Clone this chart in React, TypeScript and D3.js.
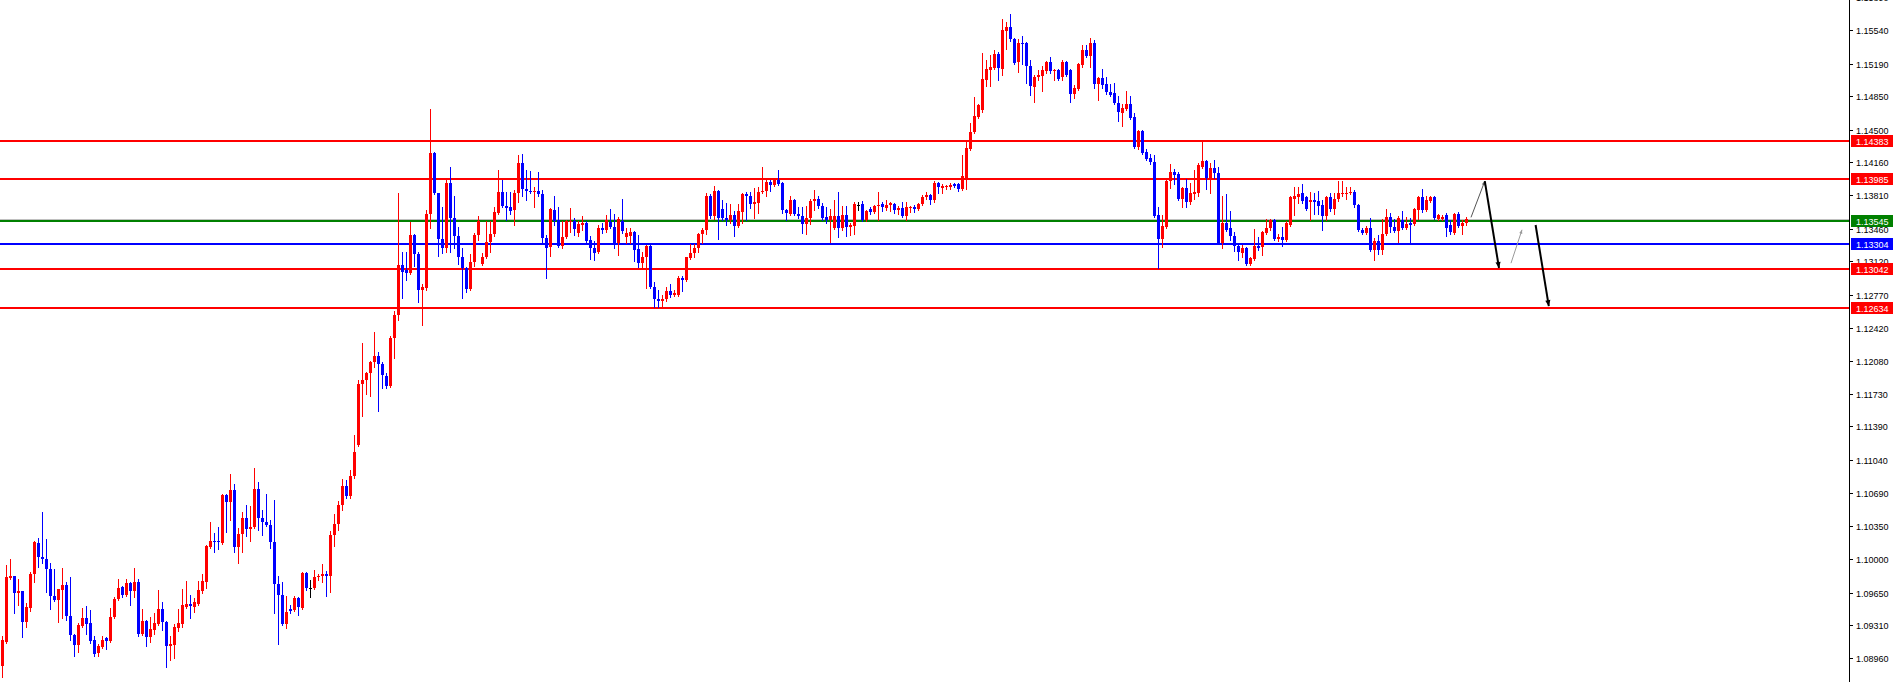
import React from 'react';
import * as d3 from 'd3';

const W = 1896;
const H = 682;
const AXIS_X = 1849;
const PRICE_TOP = 1.158566;
const PRICE_BOTTOM = 1.087137;

const opens = [
1.0888,1.0913,1.0980,1.0982,1.0965,1.0967,1.0934,1.0949,1.0984,1.1017,
1.1002,1.1000,1.0990,1.0961,1.0957,1.0968,1.0973,1.0940,1.0921,1.0910,
1.0930,1.0938,1.0933,1.0915,1.0902,1.0908,1.0917,1.0914,1.0939,1.0958,
1.0971,1.0962,1.0975,1.0967,1.0976,1.0922,1.0935,1.0919,1.0926,1.0932,
1.0948,1.0934,1.0909,1.0910,1.0928,1.0932,1.0950,1.0953,1.0950,1.0953,
1.0967,1.0976,1.1013,1.1019,1.1019,1.1017,1.1067,1.1060,1.1072,1.1013,
1.1026,1.1043,1.1032,1.1034,1.1074,1.1043,1.1039,1.1036,1.1018,1.0974,
1.0963,1.0932,1.0948,1.0947,1.0959,1.0949,1.0986,1.0970,1.0970,1.0981,
1.0982,1.0985,1.0982,1.1025,1.1037,1.1057,1.1077,1.1066,1.1087,1.1120,
1.1183,1.1188,1.1195,1.1207,1.1213,1.1204,1.1192,1.1181,1.1232,1.1256,
1.1308,1.1303,1.1300,1.1340,1.1320,1.1282,1.1284,1.1362,1.1425,1.1383,
1.1335,1.1326,1.1394,1.1357,1.1338,1.1316,1.1305,1.1283,1.1311,1.1340,
1.1309,1.1316,1.1332,1.1341,1.1363,1.1385,1.1370,1.1369,1.1366,1.1384,
1.1415,1.1388,1.1386,1.1385,1.1386,1.1382,1.1336,1.1327,1.1366,1.1355,
1.1328,1.1337,1.1353,1.1354,1.1342,1.1350,1.1352,1.1334,1.1326,1.1322,
1.1347,1.1345,1.1353,1.1348,1.1331,1.1354,1.1337,1.1339,1.1343,1.1325,
1.1310,1.1316,1.1328,1.1285,1.1273,1.1270,1.1272,1.1281,1.1277,1.1277,
1.1295,1.1292,1.1315,1.1321,1.1326,1.1341,1.1345,1.1380,1.1359,1.1386,
1.1367,1.1357,1.1355,1.1361,1.1349,1.1364,1.1382,1.1380,1.1372,1.1373,
1.1385,1.1386,1.1395,1.1392,1.1397,1.1394,1.1366,1.1362,1.1376,1.1362,
1.1359,1.1351,1.1357,1.1375,1.1377,1.1370,1.1358,1.1355,1.1347,1.1359,
1.1347,1.1361,1.1348,1.1349,1.1371,1.1372,1.1355,1.1367,1.1364,1.1370,
1.1372,1.1368,1.1371,1.1372,1.1366,1.1368,1.1359,1.1368,1.1369,1.1367,
1.1372,1.1379,1.1381,1.1376,1.1394,1.1389,1.1390,1.1390,1.1393,1.1393,
1.1388,1.1397,1.1430,1.1447,1.1463,1.1470,1.1502,1.1512,1.1514,1.1529,
1.1513,1.1553,1.1557,1.1545,1.1521,1.1541,1.1541,1.1517,1.1495,1.1505,
1.1506,1.1511,1.1521,1.1511,1.1512,1.1505,1.1521,1.1512,1.1487,1.1492,
1.1518,1.1533,1.1527,1.1541,1.1498,1.1504,1.1498,1.1489,1.1488,1.1478,
1.1467,1.1471,1.1477,1.1463,1.1432,1.1448,1.1426,1.1420,1.1416,1.1361,
1.1335,1.1348,1.1396,1.1406,1.1403,1.1377,1.1389,1.1374,1.1382,1.1384,
1.1411,1.1417,1.1399,1.1410,1.1404,1.1331,1.1352,1.1347,1.1338,1.1328,
1.1321,1.1326,1.1309,1.1314,1.1328,1.1327,1.1342,1.1347,1.1355,1.1335,
1.1337,1.1334,1.1350,1.1377,1.1379,1.1384,1.1379,1.1374,1.1376,1.1375,
1.1371,1.1359,1.1379,1.1367,1.1377,1.1383,1.1383,1.1384,1.1385,1.1371,
1.1345,1.1342,1.1347,1.1324,1.1333,1.1324,1.1341,1.1358,1.1348,1.1344,
1.1355,1.1347,1.1352,1.1351,1.1366,1.1379,1.1366,1.1375,1.1379,1.1356,
1.1356,1.1360,1.1350,1.1342,1.1362,1.1349,1.1352
];

const highs = [
1.0920,1.0994,1.1000,1.0982,1.0979,1.0967,1.0954,1.0987,1.1019,1.1022,
1.1049,1.1021,1.0996,1.0990,1.0969,1.0991,1.0976,1.0981,1.0922,1.0933,
1.0949,1.0951,1.0947,1.0920,1.0911,1.0920,1.0918,1.0949,1.0960,1.0979,
1.0972,1.0979,1.0976,1.0991,1.0979,1.0948,1.0936,1.0939,1.0944,1.0968,
1.0955,1.0935,1.0920,1.0932,1.0948,1.0969,1.0977,1.0963,1.0959,1.0977,
1.0985,1.1015,1.1039,1.1027,1.1034,1.1068,1.1068,1.1089,1.1079,1.1033,
1.1049,1.1057,1.1056,1.1095,1.1081,1.1051,1.1068,1.1041,1.1062,1.0982,
1.0976,1.0961,1.0952,1.0961,1.0960,1.0987,1.0987,1.0978,1.0989,1.0985,
1.0995,1.0988,1.1029,1.1047,1.1061,1.1084,1.1083,1.1093,1.1130,1.1188,
1.1226,1.1196,1.1208,1.1238,1.1217,1.1206,1.1195,1.1234,1.1260,1.1384,
1.1322,1.1322,1.1353,1.1341,1.1322,1.1288,1.1366,1.1471,1.1426,1.1384,
1.1369,1.1398,1.1411,1.1380,1.1348,1.1326,1.1306,1.1320,1.1342,1.1359,
1.1321,1.1354,1.1354,1.1369,1.1408,1.1397,1.1385,1.1385,1.1387,1.1423,
1.1424,1.1408,1.1407,1.1390,1.1405,1.1387,1.1340,1.1368,1.1380,1.1369,
1.1354,1.1355,1.1368,1.1357,1.1354,1.1359,1.1354,1.1338,1.1333,1.1350,
1.1352,1.1361,1.1367,1.1362,1.1358,1.1377,1.1347,1.1347,1.1344,1.1340,
1.1322,1.1329,1.1329,1.1290,1.1282,1.1277,1.1285,1.1288,1.1282,1.1297,
1.1297,1.1317,1.1330,1.1330,1.1342,1.1347,1.1384,1.1382,1.1391,1.1387,
1.1376,1.1373,1.1372,1.1365,1.1372,1.1383,1.1385,1.1385,1.1389,1.1390,
1.1411,1.1397,1.1397,1.1399,1.1408,1.1395,1.1367,1.1380,1.1377,1.1369,
1.1369,1.1370,1.1377,1.1387,1.1380,1.1373,1.1369,1.1367,1.1376,1.1385,
1.1370,1.1370,1.1352,1.1374,1.1374,1.1375,1.1366,1.1369,1.1371,1.1385,
1.1374,1.1376,1.1374,1.1373,1.1370,1.1374,1.1374,1.1370,1.1371,1.1373,
1.1381,1.1385,1.1382,1.1396,1.1395,1.1393,1.1392,1.1394,1.1394,1.1394,
1.1423,1.1437,1.1457,1.1484,1.1477,1.1530,1.1523,1.1528,1.1533,1.1531,
1.1566,1.1563,1.1571,1.1546,1.1545,1.1548,1.1542,1.1523,1.1507,1.1512,
1.1517,1.1522,1.1526,1.1513,1.1513,1.1523,1.1522,1.1513,1.1497,1.1520,
1.1539,1.1539,1.1546,1.1544,1.1505,1.1513,1.1505,1.1498,1.1499,1.1485,
1.1477,1.1490,1.1485,1.1467,1.1449,1.1449,1.1430,1.1424,1.1423,1.1369,
1.1360,1.1397,1.1414,1.1409,1.1405,1.1390,1.1398,1.1394,1.1408,1.1415,
1.1437,1.1418,1.1415,1.1418,1.1411,1.1380,1.1382,1.1365,1.1343,1.1330,
1.1329,1.1327,1.1317,1.1346,1.1337,1.1344,1.1356,1.1356,1.1356,1.1341,
1.1348,1.1354,1.1380,1.1390,1.1390,1.1393,1.1380,1.1385,1.1384,1.1386,
1.1376,1.1380,1.1383,1.1384,1.1396,1.1396,1.1390,1.1390,1.1387,1.1372,
1.1347,1.1349,1.1357,1.1336,1.1340,1.1356,1.1367,1.1363,1.1356,1.1359,
1.1365,1.1358,1.1357,1.1368,1.1380,1.1388,1.1380,1.1380,1.1380,1.1362,
1.1361,1.1363,1.1355,1.1363,1.1364,1.1355,1.1358
];

const lows = [
1.0877,1.0912,1.0979,1.0944,1.0952,1.0919,1.0929,1.0946,1.0976,1.0992,
1.0996,1.0966,1.0948,1.0956,1.0934,1.0938,1.0936,1.0915,1.0899,1.0903,
1.0929,1.0922,1.0912,1.0899,1.0899,1.0907,1.0906,1.0913,1.0938,1.0957,
1.0960,1.0961,1.0952,1.0960,1.0920,1.0921,1.0909,1.0913,1.0922,1.0931,
1.0926,1.0887,1.0894,1.0896,1.0925,1.0929,1.0949,1.0938,1.0945,1.0952,
1.0965,1.0970,1.1012,1.1008,1.1011,1.1016,1.1028,1.1041,1.1008,1.0996,
1.1008,1.1024,1.1019,1.1033,1.1031,1.1025,1.1035,1.1012,1.0944,1.0911,
1.0931,1.0928,1.0944,1.0946,1.0942,1.0948,1.0968,1.0960,1.0969,1.0978,
1.0976,1.0961,1.0966,1.1014,1.1031,1.1051,1.1064,1.1064,1.1085,1.1119,
1.1150,1.1173,1.1171,1.1201,1.1155,1.1179,1.1179,1.1180,1.1211,1.1250,
1.1274,1.1292,1.1299,1.1307,1.1269,1.1245,1.1282,1.1347,1.1382,1.1318,
1.1321,1.1322,1.1322,1.1326,1.1309,1.1274,1.1280,1.1282,1.1307,1.1334,
1.1308,1.1315,1.1322,1.1338,1.1362,1.1369,1.1355,1.1362,1.1350,1.1374,
1.1380,1.1376,1.1384,1.1369,1.1380,1.1332,1.1294,1.1318,1.1350,1.1327,
1.1326,1.1336,1.1343,1.1340,1.1338,1.1345,1.1332,1.1314,1.1313,1.1321,
1.1342,1.1343,1.1347,1.1326,1.1319,1.1342,1.1331,1.1331,1.1312,1.1306,
1.1306,1.1284,1.1284,1.1264,1.1264,1.1264,1.1270,1.1275,1.1276,1.1276,
1.1281,1.1291,1.1314,1.1317,1.1322,1.1331,1.1341,1.1357,1.1356,1.1335,
1.1355,1.1350,1.1352,1.1339,1.1348,1.1352,1.1355,1.1368,1.1357,1.1363,
1.1383,1.1380,1.1386,1.1391,1.1392,1.1363,1.1355,1.1361,1.1361,1.1357,
1.1342,1.1341,1.1351,1.1366,1.1368,1.1355,1.1352,1.1332,1.1346,1.1337,
1.1345,1.1338,1.1340,1.1341,1.1366,1.1354,1.1354,1.1362,1.1363,1.1355,
1.1365,1.1366,1.1365,1.1363,1.1362,1.1358,1.1355,1.1364,1.1364,1.1366,
1.1371,1.1377,1.1372,1.1374,1.1383,1.1384,1.1388,1.1388,1.1390,1.1386,
1.1387,1.1388,1.1429,1.1446,1.1462,1.1468,1.1496,1.1496,1.1513,1.1502,
1.1507,1.1534,1.1543,1.1519,1.1510,1.1519,1.1499,1.1486,1.1479,1.1502,
1.1490,1.1509,1.1509,1.1502,1.1502,1.1502,1.1506,1.1479,1.1483,1.1491,
1.1516,1.1526,1.1516,1.1494,1.1481,1.1493,1.1487,1.1485,1.1477,1.1459,
1.1454,1.1470,1.1461,1.1431,1.1430,1.1424,1.1418,1.1414,1.1358,1.1305,
1.1327,1.1347,1.1389,1.1393,1.1376,1.1369,1.1369,1.1372,1.1377,1.1380,
1.1410,1.1388,1.1384,1.1399,1.1330,1.1326,1.1344,1.1334,1.1323,1.1313,
1.1316,1.1308,1.1308,1.1313,1.1324,1.1319,1.1341,1.1345,1.1334,1.1333,
1.1328,1.1333,1.1349,1.1360,1.1373,1.1373,1.1366,1.1355,1.1362,1.1362,
1.1345,1.1355,1.1365,1.1362,1.1375,1.1380,1.1377,1.1382,1.1369,1.1344,
1.1341,1.1341,1.1323,1.1313,1.1320,1.1320,1.1340,1.1343,1.1343,1.1332,
1.1346,1.1346,1.1331,1.1350,1.1356,1.1364,1.1365,1.1374,1.1356,1.1355,
1.1355,1.1338,1.1341,1.1341,1.1348,1.1341,1.1350
];

const closes = [
1.0915,1.0981,1.0982,1.0965,1.0967,1.0934,1.0950,1.0985,1.1018,1.1002,
1.1000,1.0990,1.0961,1.0957,1.0969,1.0973,1.0940,1.0921,1.0910,1.0931,
1.0938,1.0932,1.0914,1.0901,1.0909,1.0915,1.0914,1.0939,1.0958,1.0970,
1.0962,1.0975,1.0967,1.0976,1.0922,1.0935,1.0918,1.0927,1.0933,1.0948,
1.0934,1.0909,1.0911,1.0929,1.0933,1.0952,1.0953,1.0951,1.0955,1.0968,
1.0977,1.1014,1.1019,1.1018,1.1018,1.1067,1.1060,1.1072,1.1013,1.1026,
1.1043,1.1032,1.1034,1.1074,1.1043,1.1039,1.1036,1.1018,1.0974,1.0963,
1.0932,1.0945,1.0946,1.0959,1.0950,1.0986,1.0970,1.0970,1.0981,1.0982,
1.0985,1.0982,1.1025,1.1037,1.1057,1.1077,1.1066,1.1087,1.1112,1.1183,
1.1188,1.1195,1.1207,1.1213,1.1204,1.1193,1.1181,1.1232,1.1256,1.1308,
1.1301,1.1300,1.1340,1.1320,1.1282,1.1285,1.1362,1.1425,1.1383,1.1335,
1.1326,1.1394,1.1357,1.1338,1.1316,1.1305,1.1283,1.1311,1.1340,1.1354,
1.1316,1.1332,1.1341,1.1364,1.1385,1.1370,1.1368,1.1365,1.1384,1.1415,
1.1388,1.1386,1.1385,1.1386,1.1382,1.1336,1.1326,1.1367,1.1354,1.1328,
1.1337,1.1354,1.1354,1.1346,1.1351,1.1352,1.1333,1.1326,1.1321,1.1347,
1.1345,1.1355,1.1348,1.1329,1.1356,1.1344,1.1342,1.1343,1.1324,1.1310,
1.1316,1.1328,1.1285,1.1273,1.1270,1.1273,1.1281,1.1277,1.1279,1.1295,
1.1292,1.1316,1.1321,1.1326,1.1341,1.1345,1.1380,1.1359,1.1386,1.1357,
1.1357,1.1355,1.1361,1.1349,1.1365,1.1382,1.1380,1.1372,1.1374,1.1385,
1.1386,1.1395,1.1392,1.1397,1.1393,1.1366,1.1363,1.1376,1.1362,1.1359,
1.1351,1.1357,1.1375,1.1377,1.1370,1.1357,1.1355,1.1359,1.1359,1.1347,
1.1361,1.1348,1.1350,1.1372,1.1371,1.1355,1.1365,1.1364,1.1370,1.1371,
1.1369,1.1371,1.1373,1.1366,1.1368,1.1359,1.1369,1.1369,1.1367,1.1372,
1.1379,1.1381,1.1376,1.1394,1.1390,1.1391,1.1391,1.1392,1.1391,1.1388,
1.1401,1.1431,1.1447,1.1464,1.1476,1.1503,1.1513,1.1515,1.1529,1.1514,
1.1554,1.1557,1.1545,1.1520,1.1541,1.1540,1.1517,1.1496,1.1505,1.1507,
1.1512,1.1521,1.1511,1.1512,1.1503,1.1521,1.1507,1.1487,1.1493,1.1519,
1.1533,1.1527,1.1541,1.1498,1.1504,1.1497,1.1489,1.1486,1.1478,1.1468,
1.1473,1.1477,1.1462,1.1432,1.1448,1.1425,1.1419,1.1416,1.1359,1.1335,
1.1349,1.1396,1.1406,1.1402,1.1377,1.1389,1.1374,1.1384,1.1385,1.1413,
1.1417,1.1399,1.1410,1.1404,1.1331,1.1352,1.1345,1.1338,1.1328,1.1322,
1.1326,1.1309,1.1315,1.1328,1.1326,1.1343,1.1347,1.1355,1.1335,1.1337,
1.1334,1.1352,1.1379,1.1380,1.1382,1.1375,1.1367,1.1376,1.1374,1.1370,
1.1359,1.1379,1.1367,1.1377,1.1383,1.1384,1.1384,1.1385,1.1371,1.1345,
1.1342,1.1347,1.1324,1.1333,1.1324,1.1341,1.1358,1.1348,1.1344,1.1357,
1.1347,1.1351,1.1350,1.1367,1.1379,1.1366,1.1376,1.1379,1.1357,1.1360,
1.1358,1.1347,1.1343,1.1362,1.1349,1.1352,1.1356
];

const tickLabels = [
  '1.15890','1.15540','1.15190','1.14850','1.14500','1.14160','1.13810',
  '1.13460','1.13120','1.12770','1.12420','1.12080','1.11730','1.11390',
  '1.11040','1.10690','1.10350','1.10000','1.09650','1.09310','1.08960'
];

const levelPrices = [1.14383, 1.13985, 1.13545, 1.13304, 1.13042, 1.12634];
const levelNames = ['1.14383', '1.13985', '1.13545', '1.13304', '1.13042', '1.12634'];
const levelColors = ['#ff0000', '#ff0000', '#008000', '#0000ff', '#ff0000', '#ff0000'];

// projected path annotations (bar index, price)
const pathFromBar = [367.25, 370.7, 377.25, 383.4];
const pathFromPrice = [1.1358, 1.1396, 1.1310, 1.1350];
const pathToBar = [370.7, 374.25, 380.0, 386.7];
const pathToPrice = [1.1396, 1.1305, 1.1345, 1.1265];
const pathKinds = ['thin', 'thick', 'thin2', 'thick'];

function arrowHead(x1: number, y1: number, x2: number, y2: number, len: number, half: number) {
  const dx = x2 - x1;
  const dy = y2 - y1;
  const L = Math.sqrt(dx * dx + dy * dy) || 1;
  const ux = dx / L;
  const uy = dy / L;
  const bx = x2 - ux * len;
  const by = y2 - uy * len;
  const nx = -uy;
  const ny = ux;
  return `${x2},${y2} ${bx + nx * half},${by + ny * half} ${bx - nx * half},${by - ny * half}`;
}

export default function App() {
  const x = d3.scaleLinear().domain([0, 366]).range([2, 1466]);
  const y = d3.scaleLinear().domain([PRICE_TOP, PRICE_BOTTOM]).range([0, H]);
  const font = '"Liberation Sans", Arial, Helvetica, sans-serif';

  const candles = opens.map((o, i) => {
    const c = closes[i];
    const h = Math.max(highs[i], o, c);
    const l = Math.min(lows[i], o, c);
    const color = c > o ? '#ff0000' : c < o ? '#0000ff' : '#000000';
    const cx = Math.round(x(i));
    const wy1 = Math.round(y(h));
    const wy2 = Math.round(y(l));
    const by1 = Math.round(y(Math.max(o, c)));
    const by2 = Math.round(y(Math.min(o, c)));
    return (
      <g key={i} fill={color}>
        <rect x={cx} y={wy1} width={1} height={Math.max(1, wy2 - wy1 + 1)} />
        <rect x={cx - 1} y={by1} width={3} height={Math.max(1, by2 - by1)} />
      </g>
    );
  });

  const lastClose = closes[closes.length - 1];
  const bidY = Math.round(y(lastClose));

  return (
    <svg
      width={W}
      height={H}
      viewBox={`0 0 ${W} ${H}`}
      style={{ position: 'absolute', left: 0, top: 0, background: '#ffffff', display: 'block' }}
    >
      <rect x={0} y={0} width={W} height={H} fill="#ffffff" />

      {/* bid line */}
      <rect x={0} y={bidY} width={AXIS_X} height={1} fill="#c0c0c0" shapeRendering="crispEdges" />

      {/* horizontal levels */}
      <g shapeRendering="crispEdges">
        {levelPrices.map((p, i) => (
          <rect key={i} x={0} y={Math.round(y(p)) - 1} width={AXIS_X} height={2} fill={levelColors[i]} />
        ))}
      </g>

      {/* candles */}
      <g shapeRendering="crispEdges">{candles}</g>

      {/* projected path */}
      <g>
        {pathKinds.map((kind, i) => {
          const x1 = x(pathFromBar[i]);
          const y1 = y(pathFromPrice[i]);
          const x2 = x(pathToBar[i]);
          const y2 = y(pathToPrice[i]);
          const thick = kind === 'thick';
          const col = kind === 'thick' ? '#000000' : kind === 'thin' ? '#555555' : '#9a9a9a';
          return (
            <g key={i}>
              <line x1={x1} y1={y1} x2={x2} y2={y2} stroke={col} strokeWidth={thick ? 2 : 1} />
              <polygon points={arrowHead(x1, y1, x2, y2, thick ? 6 : 4, thick ? 2.6 : 1.6)} fill={col} />
            </g>
          );
        })}
      </g>

      {/* price axis */}
      <rect x={AXIS_X} y={0} width={1} height={H} fill="#000000" shapeRendering="crispEdges" />
      <g shapeRendering="crispEdges">
        {tickLabels.map((t, i) => (
          <rect key={i} x={AXIS_X + 1} y={Math.round(y(parseFloat(t)))} width={3} height={1} fill="#000000" />
        ))}
      </g>
      <g fontFamily={font} fontSize={9} fill="#000000">
        {tickLabels.map((t, i) => (
          <text key={i} x={1856} y={Math.round(y(parseFloat(t))) + 3.5}>{t}</text>
        ))}
      </g>

      {/* level labels */}
      <g fontFamily={font} fontSize={9}>
        {levelPrices.map((p, i) => {
          const ly = Math.round(y(p));
          return (
            <g key={i}>
              <rect x={1851} y={ly - 6} width={42} height={12} fill={levelColors[i]} shapeRendering="crispEdges" />
              <text x={1856} y={ly + 3.5} fill="#ffffff">{levelNames[i]}</text>
            </g>
          );
        })}
      </g>
    </svg>
  );
}
